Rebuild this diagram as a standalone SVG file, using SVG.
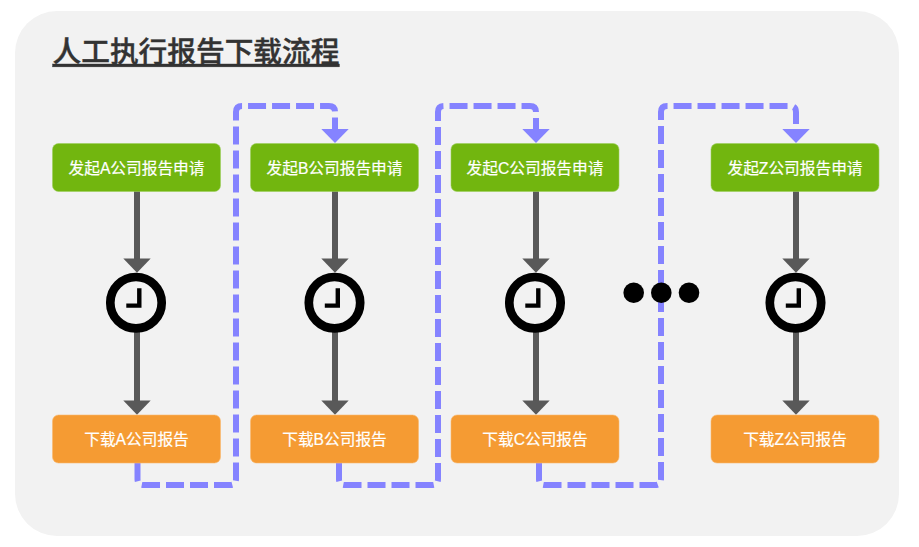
<svg xmlns="http://www.w3.org/2000/svg" width="919" height="547" viewBox="0 0 919 547">
<style>
.t{font-family:"Liberation Sans","Noto Sans CJK SC",sans-serif;text-anchor:middle;}
.n{font-size:15.7px;fill:#fff;font-weight:400;stroke:#fff;stroke-width:.2px;}
.g{fill:#72b60f;stroke:#9ccf5c;stroke-width:.6;}
.o{fill:#f59b33;stroke:#f8b86e;stroke-width:.6;}
.a{stroke:#595959;stroke-width:6;fill:none;}
.h{fill:#595959;}
.d{stroke:#8583ff;stroke-width:6;fill:none;stroke-dasharray:18 6;}
.b{fill:#8583ff;}
.c{fill:none;stroke:#000;stroke-width:8.7;}
.m{fill:none;stroke:#000;stroke-width:4.4;}
</style>
<rect width="919" height="547" fill="#fff"/>
<rect x="15" y="11" width="884" height="525" rx="42" ry="42" fill="#f2f2f2"/>
<text class="t" x="196" y="62" font-size="28.7" font-weight="500" fill="#333" stroke="#333" stroke-width=".4" text-decoration="underline" style="text-decoration-thickness:3px;text-underline-offset:3px">人工执行报告下载流程</text>
<g id="connectors">
<path class="a" d="M137 191V259"/><polygon class="h" points="123.300,258.500 150.700,258.500 137,272.700"/>
<path class="a" d="M137 332V401"/><polygon class="h" points="123.300,400.500 150.700,400.500 137,414.700"/>
<path class="a" d="M335 191V259"/><polygon class="h" points="321.300,258.500 348.700,258.500 335,272.700"/>
<path class="a" d="M335 332V401"/><polygon class="h" points="321.300,400.500 348.700,400.500 335,414.700"/>
<path class="a" d="M536 191V259"/><polygon class="h" points="522.300,258.500 549.700,258.500 536,272.700"/>
<path class="a" d="M536 332V401"/><polygon class="h" points="522.300,400.500 549.700,400.500 536,414.700"/>
<path class="a" d="M796 191V259"/><polygon class="h" points="782.300,258.500 809.700,258.500 796,272.700"/>
<path class="a" d="M796 332V401"/><polygon class="h" points="782.300,400.500 809.700,400.500 796,414.700"/>
<path class="d" d="M137.500 463V479Q137.500 485 143.500 485H230Q236 485 236 479V112Q236 106 242 106H329Q335 106 335 112V130"/>
<polygon class="b" points="321.300,129 348.700,129 335,143"/>
<path class="d" d="M339 463V479Q339 485 345 485H432Q438 485 438 479V112Q438 106 444 106H530Q536 106 536 112V130"/>
<polygon class="b" points="522.300,129 549.700,129 536,143"/>
<path class="d" d="M539 463V479Q539 485 545 485H655Q661 485 661 479V112Q661 106 667 106H790Q796 106 796 112V130"/>
<polygon class="b" points="782.300,129 809.700,129 796,143"/>
</g>
<g id="node-start-a"><rect class="g" x="52.500" y="143.500" width="168" height="48" rx="6"/><text class="t n" x="136.500" y="173.500">发起A公司报告申请</text></g>
<g id="node-start-b"><rect class="g" x="250.500" y="143.500" width="168" height="48" rx="6"/><text class="t n" x="334.500" y="173.500">发起B公司报告申请</text></g>
<g id="node-start-c"><rect class="g" x="451" y="143.500" width="168" height="48" rx="6"/><text class="t n" x="535" y="173.500">发起C公司报告申请</text></g>
<g id="node-start-z"><rect class="g" x="711" y="143.500" width="168" height="48" rx="6"/><text class="t n" x="795" y="173.500">发起Z公司报告申请</text></g>
<g id="clock-a"><circle class="c" cx="136" cy="302.700" r="25.700"/><path class="m" d="M126.300 305.600H139.300V288.300"/></g>
<g id="clock-b"><circle class="c" cx="334.500" cy="302.700" r="25.700"/><path class="m" d="M324.800 305.600H337.800V288.300"/></g>
<g id="clock-c"><circle class="c" cx="535" cy="302.700" r="25.700"/><path class="m" d="M525.300 305.600H538.300V288.300"/></g>
<g id="clock-z"><circle class="c" cx="795.500" cy="302.700" r="25.700"/><path class="m" d="M785.800 305.600H798.800V288.300"/></g>
<g id="ellipsis"><circle cx="633.700" cy="292.700" r="10.300"/><circle cx="661.300" cy="292.700" r="10.300"/><circle cx="689" cy="292.700" r="10.300"/></g>
<g id="node-dl-a"><rect class="o" x="52.500" y="415" width="168" height="48" rx="6"/><text class="t n" x="136.500" y="445">下载A公司报告</text></g>
<g id="node-dl-b"><rect class="o" x="250.500" y="415" width="168" height="48" rx="6"/><text class="t n" x="334.500" y="445">下载B公司报告</text></g>
<g id="node-dl-c"><rect class="o" x="451" y="415" width="168" height="48" rx="6"/><text class="t n" x="535" y="445">下载C公司报告</text></g>
<g id="node-dl-z"><rect class="o" x="711" y="415" width="168" height="48" rx="6"/><text class="t n" x="795" y="445">下载Z公司报告</text></g>
</svg>
